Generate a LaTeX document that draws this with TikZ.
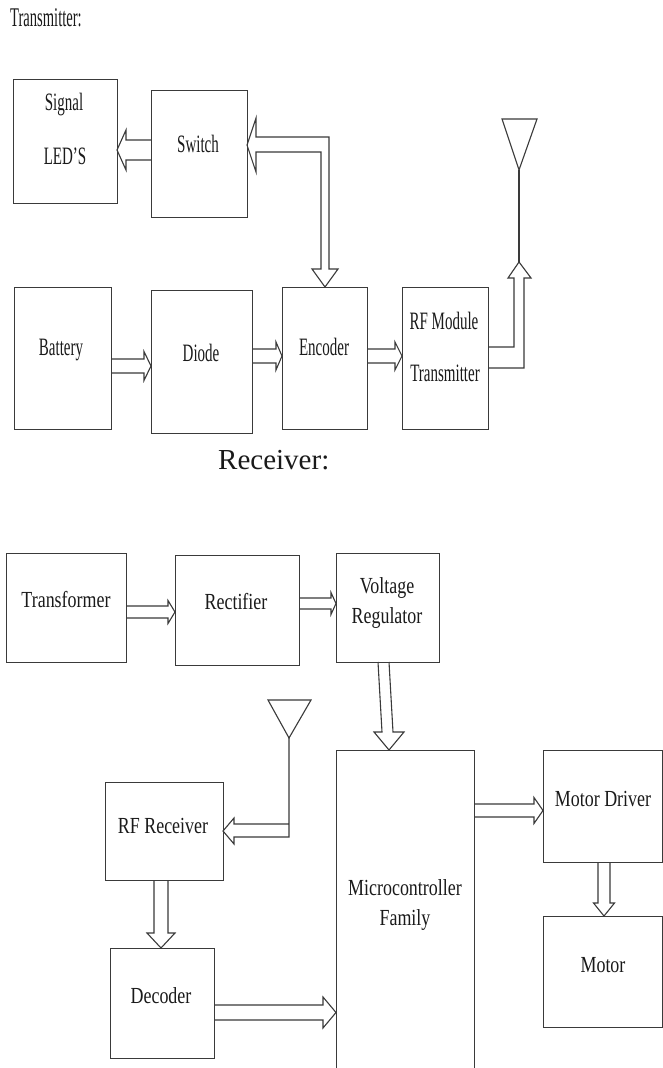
\documentclass[tikz,border=0pt]{standalone}
\usepackage{fontspec}
\setmainfont{Liberation Serif}
\usepackage{graphicx}
\definecolor{linec}{HTML}{3A3A3A}
\definecolor{textc}{HTML}{1A1A1A}
\newcommand{\tmtext}[1]{\scalebox{0.6}[1]{#1}}
\newcommand{\rctext}[1]{\scalebox{0.78}[1]{#1}}
\tikzset{
  box/.style={draw=linec, line width=1.2pt, inner sep=0pt, anchor=north west},
  conn/.style={draw=linec, line width=1.1pt, line join=miter},
  tlab/.style={anchor=base, inner sep=0pt, text=textc, font=\fontsize{25}{25}\selectfont},
  rlab/.style={anchor=base, inner sep=0pt, text=textc, font=\fontsize{23}{23}\selectfont},
}
% block: name, x1, y1, x2, y2 (pixels, y downwards)
\newcommand{\blk}[5]{\node[box, minimum width={(#4-#2)*1pt}, minimum height={(#5-#3)*1pt}] (#1) at (#2,#3) {};}
% hollow horizontal arrow: x start, x tip, y centre, half shaft, half head, head length (signed)
\newcommand{\harr}[6]{\draw[conn] ({#1},{#3-#4}) -- ({#2-(#6)},{#3-#4}) -- ({#2-(#6)},{#3-#5}) -- ({#2},{#3}) -- ({#2-(#6)},{#3+#5}) -- ({#2-(#6)},{#3+#4}) -- ({#1},{#3+#4});}
% hollow vertical arrow: x centre, y start, y tip, half shaft, half head, head length (signed)
\newcommand{\varr}[6]{\draw[conn] ({#1-#4},{#2}) -- ({#1-#4},{#3-(#6)}) -- ({#1-#5},{#3-(#6)}) -- ({#1},{#3}) -- ({#1+#5},{#3-(#6)}) -- ({#1+#4},{#3-(#6)}) -- ({#1+#4},{#2});}
\begin{document}
\begin{tikzpicture}[x=1pt,y=-1pt]
\useasboundingbox[fill=white] (0,0) rectangle (663,1068);

% ---------------- Transmitter ----------------
\node[anchor=base west, inner sep=0pt, text=textc, font=\fontsize{27}{27}\selectfont] (ttitle) at (10,27) {\scalebox{0.54}[1]{Transmitter:}};

\blk{led}{13}{79}{117}{203}
\node[tlab] (ledA) at (64,110) {\tmtext{Signal}};
\node[tlab] (ledB) at (65,164) {\tmtext{LED’S}};

\blk{sw}{151}{90}{247}{217}
\node[tlab] (swl) at (198,152) {\tmtext{Switch}};

\blk{bat}{14}{287}{111}{429}
\node[tlab] (batl) at (61,355) {\tmtext{Battery}};

\blk{dio}{151}{290}{252}{433}
\node[tlab] (diol) at (201,361) {\tmtext{Diode}};

\blk{enc}{282}{287}{367}{429}
\node[tlab] (encl) at (324,355) {\tmtext{Encoder}};

\blk{rft}{402}{287}{488}{429}
\node[tlab] (rftA) at (444,329) {\tmtext{RF Module}};
\node[tlab] (rftB) at (445,381) {\tmtext{Transmitter}};

% arrows
\harr{151}{117}{150}{10}{20}{-9}
\draw[conn] (256,137) -- (329,137) -- (329,269) -- (338,269) -- (325,287) -- (312,269) -- (321,269) -- (321,152) -- (256,152) -- (256,172) -- (247,145) -- (256,118) -- cycle;
\harr{111}{151}{366}{7}{14.5}{7}
\harr{252}{282}{356}{7}{14}{6}
\harr{367}{402}{356}{7}{14}{7}
\draw[conn] (488,368) -- (524,368) -- (524,278) -- (531,278) -- (519,262) -- (508,278) -- (514,278) -- (514,347) -- (488,347);
\coordinate (tant) at (519,170);
\draw[conn] (519,262) -- (tant);
\draw[conn] (502,119) -- (537,119) -- (tant) -- cycle;

% ---------------- Receiver ----------------
\node[anchor=base west, inner sep=0pt, text=textc, font=\fontsize{29}{29}\selectfont] (rtitle) at (218,469) {Receiver:};

\blk{trf}{6}{553}{126}{662}
\node[rlab] (trfl) at (66,607) {\rctext{Transformer}};

\blk{rec}{175}{555}{299}{665}
\node[rlab] (recl) at (236,609) {\rctext{Rectifier}};

\blk{vr}{336}{553}{439}{662}
\node[rlab] (vrA) at (387,593) {\rctext{Voltage}};
\node[rlab] (vrB) at (387,623) {\rctext{Regulator}};

\blk{mc}{336}{750}{474}{1075}
\node[rlab] (mcA) at (405,895) {\rctext{Microcontroller}};
\node[rlab] (mcB) at (405,925) {\rctext{Family}};

\blk{rfr}{105}{782}{223}{880}
\node[rlab] (rfrl) at (163,833) {\rctext{RF Receiver}};

\blk{dec}{110}{948}{214}{1058}
\node[rlab] (decl) at (161,1003) {\rctext{Decoder}};

\blk{md}{543}{750}{662}{862}
\node[rlab] (mdl) at (603,806) {\rctext{Motor Driver}};

\blk{mot}{543}{916}{662}{1027}
\node[rlab] (motl) at (603,972) {\rctext{Motor}};

% arrows
\harr{126}{175}{612}{6}{11.5}{7}
\harr{299}{336}{603.5}{5.5}{11}{5}
\draw[conn] (378,662) -- (382,732) -- (374,732) -- (389,750) -- (404,732) -- (393,732) -- (389,662);
\coordinate (rant) at (289,738);
\draw[conn] (268,700) -- (311,700) -- (rant) -- cycle;
\draw[conn] (rant) -- (289,837) -- (234,837) -- (234,844) -- (223,831) -- (234,818) -- (234,824) -- (289,824);
\varr{161}{880}{948}{7}{14}{15}
\harr{214}{336}{1012.5}{7.5}{15.5}{13}
\harr{474}{543}{810.5}{6.5}{13}{9}
\varr{604}{862}{916}{6}{10.5}{13}
\end{tikzpicture}
\end{document}
